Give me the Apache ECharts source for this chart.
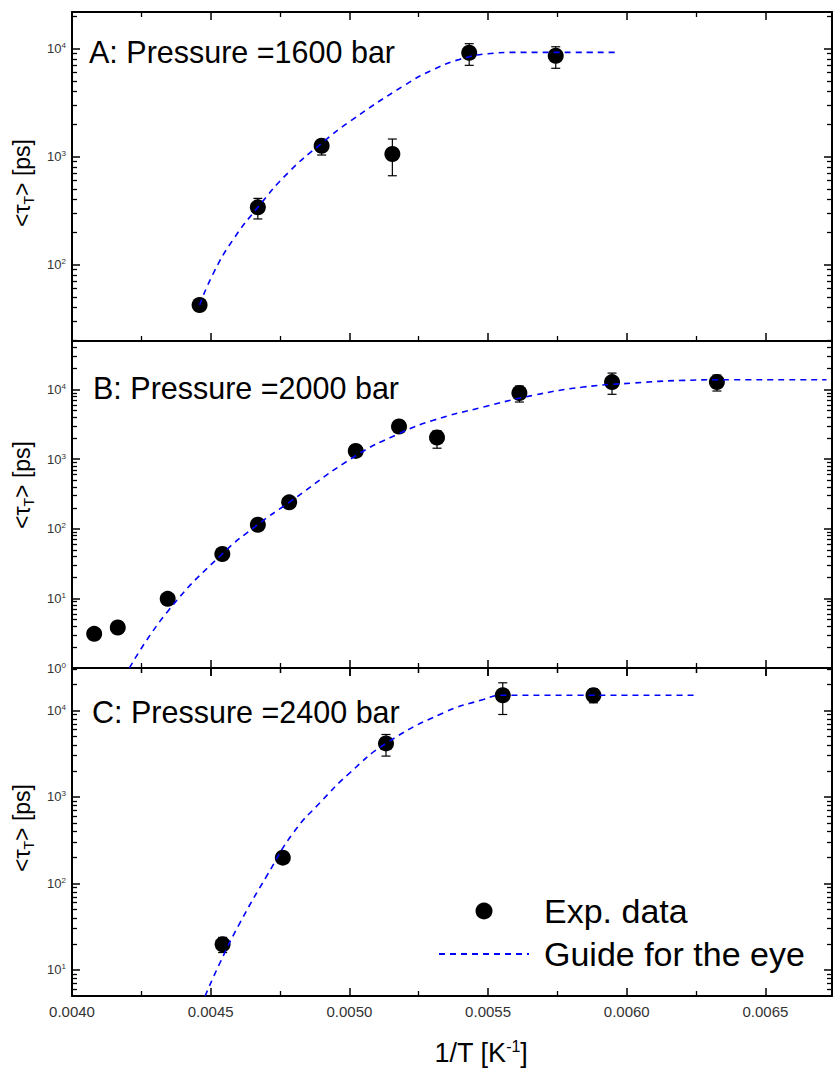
<!DOCTYPE html>
<html><head><meta charset="utf-8">
<script src="https://cdn.jsdelivr.net/npm/echarts@6/dist/echarts.min.js"></script>
<style>html,body{margin:0;padding:0;background:#fff}#c{width:833px;height:1070px}</style>
</head><body><div id="c"></div>
<script>
// ---------- data ----------
// shared x axis (1/T in K^-1)
const xRange = [0.0040, 0.00674];
const xMajorTicks = [0.0040, 0.0045, 0.0050, 0.0055, 0.0060, 0.0065];
const xMinorTicks = [0.00425, 0.00475, 0.00525, 0.00575, 0.00625];

// Panel A : 1600 bar
const titleA = 'A: Pressure =1600 bar';
const yRangeA = [19.5, 21700];
const expA_x   = [0.00446, 0.00467, 0.00490, 0.005155, 0.005432, 0.005744];
const expA_tau = [42, 337, 1254, 1050, 9100, 8540];
const expA_lo  = [null, 263, 1028, 661, 6960, 6535];
const expA_hi  = [null, 408, 1416, 1446, 11040, 10340];
const guideA_x   = [0.00446, 0.00451, 0.00458, 0.00467, 0.00478, 0.00490, 0.00500, 0.00520, 0.00530, 0.00540, 0.00550, 0.00560, 0.00597];
const guideA_tau = [42, 83, 168, 337, 708, 1320, 2090, 4570, 6310, 7940, 8910, 9180, 9180];

// Panel B : 2000 bar
const titleB = 'B: Pressure =2000 bar';
const yRangeB = [1, 50000];
const expB_x   = [0.00408, 0.004165, 0.004345, 0.004542, 0.00467, 0.004783, 0.005023, 0.005179, 0.005316, 0.005613, 0.005947, 0.006325];
const expB_tau = [3.1, 3.82, 9.86, 43.5, 114.5, 240, 1318, 2950, 2050, 8950, 12840, 12840];
const expB_lo  = [null, null, null, null, null, null, null, null, 1440, 6640, 8570, 9550];
const expB_hi  = [null, null, null, null, null, null, null, null, 2570, 11270, 17300, 16200];
const guideB_x   = [0.004207, 0.004345, 0.004542, 0.00467, 0.004783, 0.005023, 0.00518, 0.005303, 0.005483, 0.005663, 0.005843, 0.006024, 0.006204, 0.006384, 0.00672];
const guideB_tau = [1, 6.5, 43.7, 115, 240, 1122, 2344, 3631, 5623, 8279, 10890, 12450, 13580, 13900, 13900];

// Panel C : 2400 bar
const titleC = 'C: Pressure =2400 bar';
const yRangeC = [5, 31000];
const expC_x   = [0.004543, 0.00476, 0.005132, 0.005553, 0.00588];
const expC_tau = [19.8, 199, 4160, 15000, 15000];
const expC_lo  = [15.9, null, 2970, 8990, 12270];
const expC_hi  = [23.8, null, 5280, 20900, 17800];
const guideC_x   = [0.00448, 0.004534, 0.004606, 0.004702, 0.004798, 0.004894, 0.005002, 0.005132, 0.005339, 0.005483, 0.005553, 0.006247];
const guideC_tau = [5, 12.2, 35.3, 122, 386, 859, 1905, 4159, 9397, 13400, 15030, 15030];

const legendNames = ['Exp. data', 'Guide for the eye'];

// ---------- chart ----------
const FONT = '"Liberation Sans", Arial, sans-serif';
const L = Math.log10;
const panels = [
  {title: titleA, yr: yRangeA, ex: expA_x, et: expA_tau, lo: expA_lo, hi: expA_hi, gx: guideA_x, gt: guideA_tau,
   top: 12, height: 329, tLeft: 89, tTop: 36, namePad: [0, 13, 0, 0]},
  {title: titleB, yr: yRangeB, ex: expB_x, et: expB_tau, lo: expB_lo, hi: expB_hi, gx: guideB_x, gt: guideB_tau,
   top: 341, height: 327, tLeft: 93, tTop: 372, namePad: [0, 0, 0, 39]},
  {title: titleC, yr: yRangeC, ex: expC_x, et: expC_tau, lo: expC_lo, hi: expC_hi, gx: guideC_x, gt: guideC_tau,
   top: 668, height: 328, tLeft: 92, tTop: 696, namePad: [0, 0, 0, 8]}
];

function renderErr(params, api) {
  const x = api.value(0), lo = api.value(1), hi = api.value(2);
  const a = api.coord([x, hi]), b = api.coord([x, lo]);
  const w = 4.5;
  const st = {stroke: '#000', lineWidth: 1.2};
  return {type: 'group', children: [
    {type: 'line', shape: {x1: a[0], y1: a[1], x2: b[0], y2: b[1]}, style: st},
    {type: 'line', shape: {x1: a[0] - w, y1: a[1], x2: a[0] + w, y2: a[1]}, style: st},
    {type: 'line', shape: {x1: b[0] - w, y1: b[1], x2: b[0] + w, y2: b[1]}, style: st}
  ]};
}

const grids = [], xAxes = [], yAxes = [], series = [], titles = [];
const lineBlack = {color: '#000', width: 2};
const tickMajor = (vals) => ({show: true, inside: true, length: 8, customValues: vals, lineStyle: {color: '#000', width: 1.5}});
const tickMinor = (vals) => ({show: true, inside: true, length: 5, customValues: vals, lineStyle: {color: '#000', width: 1.3}});

panels.forEach((p, i) => {
  const last = i === panels.length - 1;
  grids.push({left: 72, right: 1, top: p.top, height: p.height});
  titles.push({text: p.title, left: p.tLeft, top: p.tTop, padding: 0,
    textStyle: {fontFamily: FONT, fontSize: 30.5, fontWeight: 'normal', color: '#000'}});
  const ymin = L(p.yr[0]), ymax = L(p.yr[1]);
  const majY = [], minY = [];
  for (let n = Math.floor(ymin); n <= Math.ceil(ymax); n++) {
    if (n >= ymin - 1e-9 && n <= ymax + 1e-9) majY.push(n);
    for (let k = 2; k <= 9; k++) { const v = n + L(k); if (v > ymin && v < ymax) minY.push(v); }
  }
  const xb = {gridIndex: i, type: 'value', min: xRange[0], max: xRange[1], splitLine: {show: false},
    axisLine: {show: false}, axisLabel: {show: false}, axisTick: {show: false}};
  xAxes.push(Object.assign({}, xb, {position: 'bottom', axisLine: {show: true, lineStyle: lineBlack},
    axisTick: tickMajor(xMajorTicks),
    axisLabel: {show: last, customValues: xMajorTicks, formatter: v => v.toFixed(4), fontFamily: FONT, fontSize: 15, color: '#333', margin: 8},
    name: last ? '{a|1/T [K}{s|-1}{a|]}' : '', nameLocation: 'middle', nameGap: 42,
    nameTextStyle: {padding: [0, 0, 0, 58], rich: {
      a: {fontFamily: FONT, fontSize: 27, color: '#000', lineHeight: 30},
      s: {fontFamily: FONT, fontSize: 16, color: '#000', verticalAlign: 'top', lineHeight: 18}}}}));
  xAxes.push(Object.assign({}, xb, {position: 'bottom', axisTick: tickMinor(xMinorTicks)}));
  xAxes.push(Object.assign({}, xb, {position: 'top', axisLine: {show: true, lineStyle: lineBlack}, axisTick: tickMajor(xMajorTicks)}));
  xAxes.push(Object.assign({}, xb, {position: 'top', axisTick: tickMinor(xMinorTicks)}));

  const yb = {gridIndex: i, type: 'value', min: ymin, max: ymax, splitLine: {show: false},
    axisLine: {show: false}, axisLabel: {show: false}, axisTick: {show: false}};
  yAxes.push(Object.assign({}, yb, {position: 'left', axisLine: {show: true, lineStyle: lineBlack},
    axisTick: tickMajor(majY),
    axisLabel: {show: true, customValues: majY, margin: 6, formatter: v => '{b|10}{s|' + Math.round(v) + '}',
      rich: {b: {fontFamily: FONT, fontSize: 13, color: '#333', lineHeight: 14},
             s: {fontFamily: FONT, fontSize: 8, color: '#333', verticalAlign: 'top', lineHeight: 8}}},
    name: '{a|<τ}{t|T}{a|> [ps]}', nameLocation: 'middle', nameGap: 33, nameRotate: 90,
    nameTextStyle: {padding: p.namePad, rich: {
      a: {fontFamily: FONT, fontSize: 23, color: '#000', lineHeight: 28},
      t: {fontFamily: FONT, fontSize: 14, color: '#000', verticalAlign: 'bottom', lineHeight: 14}}}}));
  yAxes.push(Object.assign({}, yb, {position: 'left', axisTick: tickMinor(minY)}));
  yAxes.push(Object.assign({}, yb, {position: 'right', axisLine: {show: true, lineStyle: lineBlack}, axisTick: tickMajor(majY)}));
  yAxes.push(Object.assign({}, yb, {position: 'right', axisTick: tickMinor(minY)}));

  const ai = 4 * i;
  const errData = [];
  p.ex.forEach((x, j) => { if (p.lo[j] != null) errData.push([x, L(p.lo[j]), L(p.hi[j])]); });
  series.push({type: 'custom', name: 'err' + i, xAxisIndex: ai, yAxisIndex: ai, renderItem: renderErr,
    encode: {x: 0, y: [1, 2]}, data: errData, z: 2, silent: true});
  series.push({type: 'scatter', name: legendNames[0], xAxisIndex: ai, yAxisIndex: ai, symbol: 'circle', symbolSize: 16,
    itemStyle: {color: '#000', opacity: 1}, data: p.ex.map((x, j) => [x, L(p.et[j])]), z: 3});
  series.push({type: 'line', name: legendNames[1], xAxisIndex: ai, yAxisIndex: ai, symbol: 'none', smooth: 0.5,
    lineStyle: {color: '#0000ff', width: 1.6, type: [6, 5]}, itemStyle: {color: '#0000ff'},
    data: p.gx.map((x, j) => [x, L(p.gt[j])]), z: 4});
});

const chart = echarts.init(document.getElementById('c'), null, {renderer: 'svg'});
chart.setOption({
  animation: false,
  backgroundColor: '#fff',
  title: titles,
  grid: grids,
  xAxis: xAxes,
  yAxis: yAxes,
  legend: {
    data: [{name: legendNames[0], icon: 'circle', itemStyle: {opacity: 1}}, {name: legendNames[1], itemStyle: {opacity: 0}}],
    orient: 'vertical', left: 438, top: 894, padding: 0, itemWidth: 90, itemHeight: 17, itemGap: 9, selectedMode: false,
    textStyle: {fontFamily: FONT, fontSize: 34, color: '#000', lineHeight: 34, padding: [0, 0, 0, 10]}
  },
  series: series
});
</script>
</body></html>
